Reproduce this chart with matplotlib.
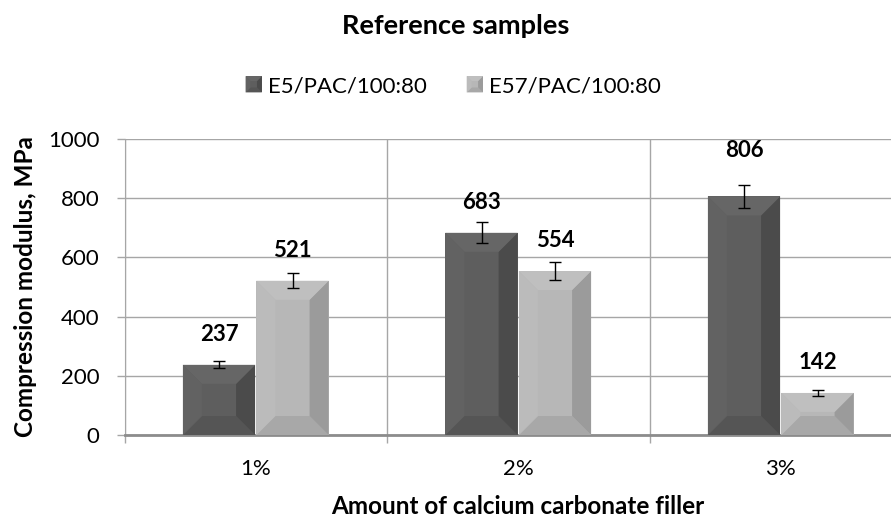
import numpy as np
import matplotlib.pyplot as plt
from matplotlib.patches import Polygon, Patch, Rectangle
from matplotlib.legend_handler import HandlerBase

# chart data
categories = ['1%', '2%', '3%']
series_names = ['E5/PAC/100:80', 'E57/PAC/100:80']
e5_values = [237, 683, 806]
e57_values = [521, 554, 142]
e5_errors = [12, 35, 40]
e57_errors = [25, 29, 9]
y_ticks = [0, 200, 400, 600, 800, 1000]

plt.rcParams['font.family'] = ['Lato', 'DejaVu Sans']

face_colors = ['#5e5e5e', '#b7b7b7']
# bevel shades: bottom, right, top, left
bevel_shades = [['#555555', '#4b4b4b', '#666666', '#626262'],
                ['#a8a8a8', '#9b9b9b', '#bfbfbf', '#bbbbbb']]
grid_col = '#a6a6a6'


def bevel_polys(outer, inner, shades, z, transform=None):
    polys = []
    for i, c in enumerate(shades):
        j = (i + 1) % 4
        kw = {} if transform is None else {'transform': transform}
        polys.append(Polygon([outer[i], outer[j], inner[j], inner[i]], closed=True,
                             facecolor=c, edgecolor='none', zorder=z, **kw))
    return polys


def add_bevel(ax, patch, shades, px=19):
    x0, y0 = patch.get_x(), patch.get_y()
    X0, Y0 = ax.transData.transform((x0, y0))
    X1, Y1 = ax.transData.transform((x0 + patch.get_width(), y0 + patch.get_height()))
    d = min(px, (X1 - X0) / 2, (Y1 - Y0) / 2)
    inv = ax.transData.inverted()
    outer = inv.transform([(X0, Y0), (X1, Y0), (X1, Y1), (X0, Y1)])
    inner = inv.transform([(X0 + d, Y0 + d), (X1 - d, Y0 + d), (X1 - d, Y1 - d), (X0 + d, Y1 - d)])
    for p in bevel_polys(outer, inner, shades, patch.get_zorder() + 0.1):
        ax.add_patch(p)


class BevelHandler(HandlerBase):
    def __init__(self, face, shades):
        super().__init__()
        self.face = face
        self.shades = shades

    def create_artists(self, legend, orig_handle, xdescent, ydescent, width, height,
                       fontsize, trans):
        s = min(width, height)
        x0 = -xdescent + (width - s) / 2
        y0 = -ydescent + (height - s) / 2
        d = s * 0.3
        outer = [(x0, y0), (x0 + s, y0), (x0 + s, y0 + s), (x0, y0 + s)]
        inner = [(x0 + d, y0 + d), (x0 + s - d, y0 + d), (x0 + s - d, y0 + s - d), (x0 + d, y0 + s - d)]
        arts = [Rectangle((x0, y0), s, s, facecolor=self.face, edgecolor='none', transform=trans)]
        arts += bevel_polys(outer, inner, self.shades, 2, transform=trans)
        return arts


fig = plt.figure(figsize=(8.91, 5.22), dpi=100)
# plot area runs past the right edge, as in the cropped original
ax = fig.add_axes([124.5 / 891, 87 / 522, 787.5 / 891, 296 / 522])
ax.set_xlim(-0.5, len(categories) - 0.5)
ax.set_ylim(0, 1000)

x = np.arange(len(categories))
width = 0.275
offsets = [-0.14, 0.14]
label_lift = [[20, 20, 35], [20, 20, 20]]  # px above bar top

for k, (vals, errs) in enumerate([(e5_values, e5_errors), (e57_values, e57_errors)]):
    bars = ax.bar(x + offsets[k], vals, width, color=face_colors[k], zorder=3,
                  label=series_names[k])
    for b in bars:
        add_bevel(ax, b, bevel_shades[k])
    ax.errorbar(x + offsets[k], vals, yerr=errs, fmt='none', ecolor='black',
                elinewidth=1, capsize=4.5, capthick=1, zorder=5)
    for xi, v, lift in zip(x + offsets[k], vals, label_lift[k]):
        ax.annotate(str(v), (xi, v), xytext=(0, lift), textcoords='offset pixels',
                    ha='center', va='bottom', fontsize=16, fontweight='bold', zorder=6)

# axes and grid
ax.set_yticks(y_ticks)
ax.set_xticks(x)
ax.set_xticklabels(categories)
ax.set_xticks(np.arange(len(categories) + 1) - 0.5, minor=True)
ax.tick_params(axis='x', which='major', length=0, pad=17, labelsize=16)
ax.tick_params(axis='x', which='minor', length=6, color=grid_col, width=1)
ax.tick_params(axis='y', length=6, color=grid_col, width=1, pad=12, labelsize=16)
ax.grid(axis='y', color=grid_col, linewidth=1, zorder=0)
ax.grid(axis='x', which='minor', color=grid_col, linewidth=1, zorder=0)
ax.set_axisbelow(True)
for s in ['top', 'right']:
    ax.spines[s].set_visible(False)
ax.spines['left'].set_color(grid_col)
ax.spines['bottom'].set_color('#8c8c8c')
ax.spines['bottom'].set_linewidth(2)

ax.set_ylabel('Compression modulus, MPa', fontsize=17.5, fontweight='bold', labelpad=8)
ax.set_xlabel('Amount of calcium carbonate filler', fontsize=17.5, fontweight='bold', labelpad=12)

fig.text(456 / 891, 1 - 26 / 522, 'Reference samples', ha='center', va='center',
         fontsize=19.5, fontweight='bold')

handles = [Patch(facecolor=face_colors[0]), Patch(facecolor=face_colors[1])]
hmap = {handles[0]: BevelHandler(face_colors[0], bevel_shades[0]),
        handles[1]: BevelHandler(face_colors[1], bevel_shades[1])}
fig.legend(handles, series_names, loc='center', bbox_to_anchor=(453 / 891, 1 - 86 / 522),
           ncol=2, frameon=False, fontsize=16, handlelength=0.75, handleheight=0.75,
           handletextpad=0.25, columnspacing=1.8, handler_map=hmap)

fig.savefig('out.png', dpi=100)
